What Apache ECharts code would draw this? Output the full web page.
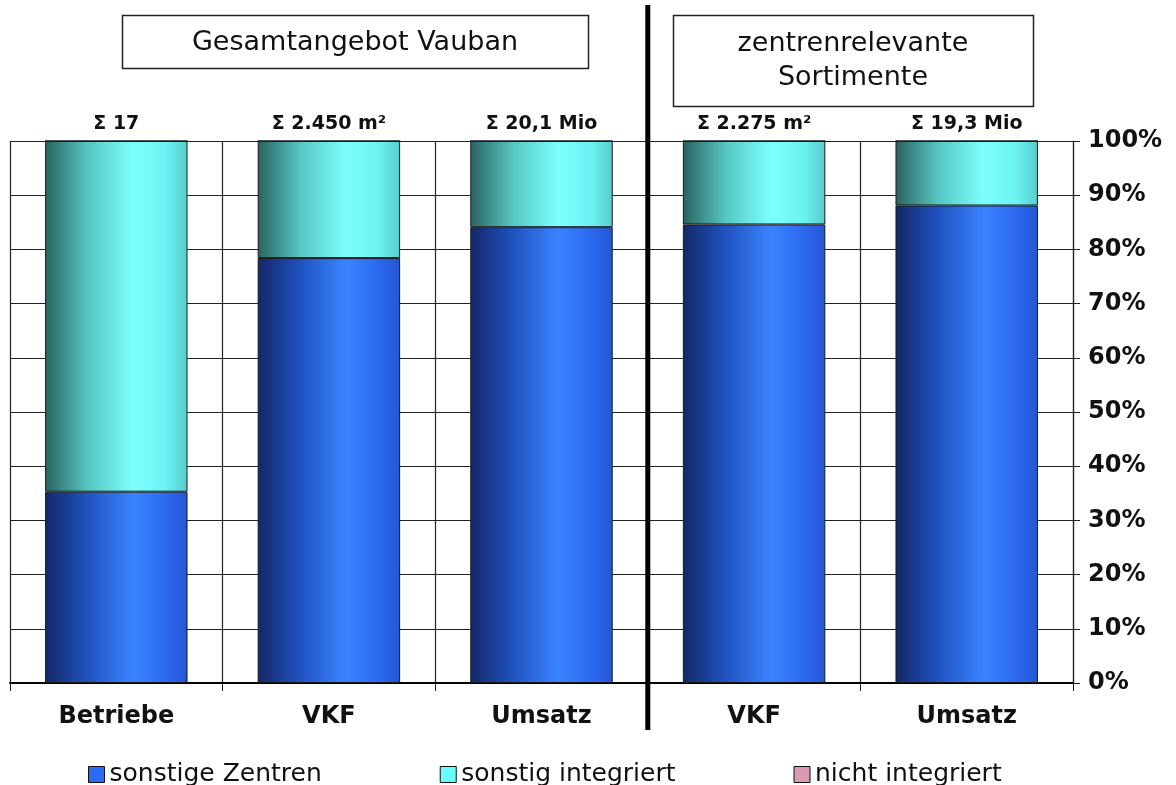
<!DOCTYPE html>
<html>
<head>
<meta charset="utf-8">
<style>
  html, body { margin: 0; padding: 0; background: #fff; }
  #chart { width: 1176px; height: 785px; }
</style>
<script src="https://cdn.jsdelivr.net/npm/echarts@6/dist/echarts.min.js"></script>
</head>
<body>
<div id="chart"></div>
<script>
// Categories along the x axis (first three: whole offer, last two: centre-relevant ranges)
const categories = ['Betriebe', 'VKF', 'Umsatz', 'VKF', 'Umsatz'];
// Shares in percent
const sonstigeZentren = [35.3, 78.4, 84.1, 84.6, 88.1];
const sonstigIntegriert = [64.7, 21.6, 15.9, 15.4, 11.9];
const nichtIntegriert = [0, 0, 0, 0, 0];
// Totals printed above each column
const totals = ['Σ 17', 'Σ 2.450 m²', 'Σ 20,1 Mio', 'Σ 2.275 m²', 'Σ 19,3 Mio'];
const seriesNames = ['sonstige Zentren', 'sonstig integriert', 'nicht integriert'];
const yTicks = { min: 0, max: 100, interval: 10 };

const W = 1176;
const gridLeft = 10, gridRight = 103, gridTop = 141, gridBottom = 102;
const sepX = gridLeft + (W - gridLeft - gridRight) * 3 / categories.length;

const G = echarts.graphic;
const blueGrad = new G.LinearGradient(0, 0, 1, 0, [
  { offset: 0, color: '#132866' },
  { offset: 0.28, color: '#1f4fbb' },
  { offset: 0.62, color: '#3a84ff' },
  { offset: 0.85, color: '#2c69f0' },
  { offset: 1, color: '#2456d2' }
]);
const cyanGrad = new G.LinearGradient(0, 0, 1, 0, [
  { offset: 0, color: '#2a625f' },
  { offset: 0.3, color: '#56c6c2' },
  { offset: 0.62, color: '#7dffff' },
  { offset: 0.85, color: '#6cf2f2' },
  { offset: 1, color: '#56cccc' }
]);

const chart = echarts.init(document.getElementById('chart'), null, { renderer: 'canvas' });

const boldFont = 'DejaVu Sans';

chart.setOption({
  animation: false,
  backgroundColor: '#ffffff',
  grid: { left: gridLeft, right: gridRight, top: gridTop, bottom: gridBottom, containLabel: false },
  legend: {
    left: 83, top: 757,
    itemWidth: 16, itemHeight: 16, itemGap: 118,
    icon: 'rect',
    textStyle: { fontFamily: 'DejaVu Sans', fontSize: 25, color: '#111' },
    data: [
      { name: seriesNames[0], itemStyle: { color: '#2a6cf4', borderColor: '#111', borderWidth: 1 } },
      { name: seriesNames[1], itemStyle: { color: '#66ffff', borderColor: '#111', borderWidth: 1 } },
      { name: seriesNames[2], itemStyle: { color: '#d99bb4', borderColor: '#111', borderWidth: 1 } }
    ]
  },
  xAxis: {
    type: 'category',
    data: categories,
    boundaryGap: true,
    axisLine: { show: true, lineStyle: { color: '#000', width: 2 } },
    axisTick: { show: true, length: 8, lineStyle: { color: '#222', width: 1 } },
    splitLine: { show: true, lineStyle: { color: '#222', width: 1.2 } },
    axisLabel: {
      margin: 22, color: '#111', fontFamily: boldFont, fontWeight: 'bold', fontSize: 24,
      interval: 0
    }
  },
  yAxis: {
    type: 'value',
    position: 'right',
    min: yTicks.min, max: yTicks.max, interval: yTicks.interval,
    axisLine: { show: true, lineStyle: { color: '#222', width: 1.2 } },
    axisTick: { show: true, inside: false, length: 7, lineStyle: { color: '#222', width: 1 } },
    splitLine: { show: true, lineStyle: { color: '#222', width: 1.2 } },
    axisLabel: {
      margin: 15, color: '#111', fontFamily: boldFont, fontWeight: 'bold', fontSize: 24,
      formatter: '{value}%'
    }
  },
  series: [
    {
      name: seriesNames[0], type: 'bar', stack: 'share', barWidth: '67%',
      data: sonstigeZentren,
      itemStyle: { color: blueGrad, borderColor: '#1a1a1a', borderWidth: 1 }
    },
    {
      name: seriesNames[1], type: 'bar', stack: 'share', barWidth: '67%',
      data: sonstigIntegriert,
      itemStyle: { color: cyanGrad, borderColor: '#1a1a1a', borderWidth: 1 },
      label: {
        show: true, position: 'top', distance: 7,
        color: '#111', fontFamily: boldFont, fontWeight: 'bold', fontSize: 19,
        formatter: p => totals[p.dataIndex]
      }
    },
    {
      name: seriesNames[2], type: 'bar', stack: 'share', barWidth: '67%',
      data: nichtIntegriert,
      itemStyle: { color: '#d99bb4', borderColor: '#1a1a1a', borderWidth: 1 }
    }
  ],
  graphic: [
    // Separator between the two groups of columns
    {
      type: 'line', z: 100,
      shape: { x1: sepX, y1: 5, x2: sepX, y2: 730 },
      style: { stroke: '#000', lineWidth: 5 }
    },
    // Group heading boxes
    {
      type: 'rect', z: 100,
      shape: { x: 122.5, y: 15.5, width: 466, height: 53 },
      style: { fill: '#fff', stroke: '#222', lineWidth: 1.5 }
    },
    {
      type: 'text', z: 101, x: 355, y: 43,
      style: {
        text: 'Gesamtangebot Vauban', fill: '#111',
        font: '27px "DejaVu Sans"', textAlign: 'center', textVerticalAlign: 'middle'
      }
    },
    {
      type: 'rect', z: 100,
      shape: { x: 673.5, y: 15.5, width: 360, height: 91 },
      style: { fill: '#fff', stroke: '#222', lineWidth: 1.5 }
    },
    {
      type: 'text', z: 101, x: 853, y: 61,
      style: {
        text: 'zentrenrelevante\nSortimente', fill: '#111',
        font: '27px "DejaVu Sans"', lineHeight: 34,
        textAlign: 'center', textVerticalAlign: 'middle'
      }
    }
  ]
});
</script>
</body>
</html>
